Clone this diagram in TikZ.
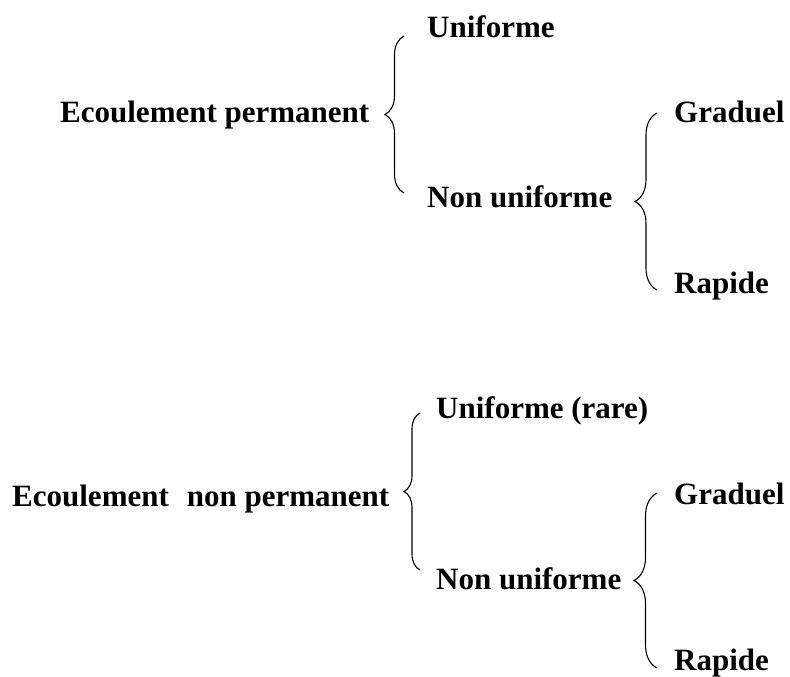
\documentclass[tikz,border=0pt]{standalone}
\usepackage{fontspec}
\setmainfont{Liberation Serif}
\usetikzlibrary{decorations.pathreplacing}
\begin{document}
\begin{tikzpicture}[x=1pt,y=-1pt,
  lbl/.style={anchor=base west,inner sep=0pt,font=\fontsize{31}{36}\selectfont\bfseries},
  curly/.style={draw=black,line width=1.1pt,decorate,decoration={brace,amplitude=#1}}]
\useasboundingbox (0,0) rectangle (790,677);
% first group
\node[lbl] (ep) at (60,122) {Ecoulement permanent};
\node[lbl] (u1) at (427,38) {Uniforme};
\node[lbl] (nu1) at (427,207) {Non uniforme};
\node[lbl] (g1) at (674,122) {Graduel};
\node[lbl] (r1) at (674,293) {Rapide};
\coordinate (b1t) at (404,36);
\coordinate (b1b) at (404,193);
\coordinate (b2t) at (657,113);
\coordinate (b2b) at (657,290);
\draw[curly=19pt] (b1b) -- (b1t);
\draw[curly=22pt] (b2b) -- (b2t);
% second group
\node[lbl] (enp) at (12,506) {Ecoulement\hspace{18pt}non permanent};
\node[lbl] (u2) at (436,418) {Uniforme (rare)};
\node[lbl] (nu2) at (436,589) {Non uniforme};
\node[lbl] (g2) at (674,504) {Graduel};
\node[lbl] (r2) at (674,670) {Rapide};
\coordinate (b3t) at (420,413);
\coordinate (b3b) at (420,570);
\coordinate (b4t) at (657,493);
\coordinate (b4b) at (657,668);
\draw[curly=16pt] (b3b) -- (b3t);
\draw[curly=23pt] (b4b) -- (b4t);
\end{tikzpicture}
\end{document}
